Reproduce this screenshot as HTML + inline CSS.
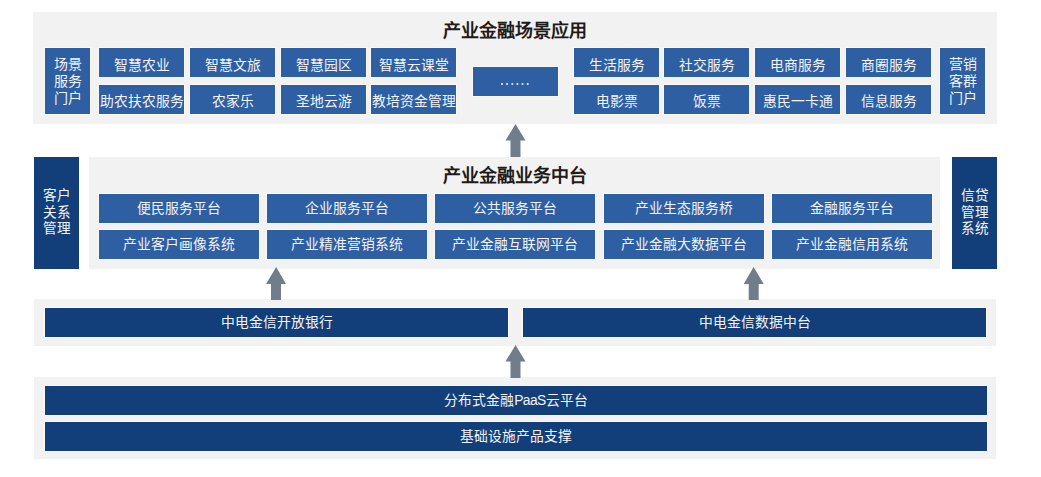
<!DOCTYPE html>
<html lang="zh-CN">
<head>
<meta charset="utf-8">
<style>
html,body{margin:0;padding:0;background:#ffffff;}
body{width:1041px;height:477px;position:relative;overflow:hidden;font-family:"Liberation Sans",sans-serif;}
.a{position:absolute;box-sizing:border-box;}
.p{background:#f2f2f2;}
.b{background:#2e5fa3;color:#f4f4f4;font-size:13.8px;text-align:center;line-height:29px;height:29px;width:85px;box-shadow:0 0 0 1px #faf9f3;white-space:nowrap;}
.m{width:160px;}
.r1{padding-top:2.5px;}
.r2{padding-top:1.5px;}
.d{background:#123f7a;color:#f4f4f4;font-size:13.8px;text-align:center;line-height:29px;height:29px;box-shadow:0 0 0 1px #faf9f3;white-space:nowrap;}
.v{font-size:14px;line-height:17px;color:#f4f4f4;text-align:center;display:flex;align-items:center;justify-content:center;}
.sd{font-size:13.6px;line-height:16.7px;padding-bottom:0px;}
.t{font-size:18px;font-weight:bold;color:#1f1b18;text-align:center;white-space:nowrap;line-height:20px;}
</style>
</head>
<body>
<!-- top panel -->
<div class="a p" style="left:33px;top:12px;width:964px;height:112px;"></div>
<div class="a t" style="left:33px;top:21px;width:964px;">产业金融场景应用</div>
<div class="a b v" style="left:45px;top:48px;width:45px;height:66px;">场景<br>服务<br>门户</div>
<div class="a b r1" style="left:99px;top:48px;">智慧农业</div>
<div class="a b r1" style="left:190px;top:48px;">智慧文旅</div>
<div class="a b r1" style="left:281px;top:48px;">智慧园区</div>
<div class="a b r1" style="left:371px;top:48px;">智慧云课堂</div>
<div class="a b r2" style="left:99px;top:85px;">助农扶农服务</div>
<div class="a b r2" style="left:190px;top:85px;">农家乐</div>
<div class="a b r2" style="left:281px;top:85px;">圣地云游</div>
<div class="a b r2" style="left:371px;top:85px;">教培资金管理</div>
<div class="a b" style="left:473px;top:67px;"></div>
<div class="a b r1" style="left:574px;top:48px;">生活服务</div>
<div class="a b r1" style="left:664px;top:48px;">社交服务</div>
<div class="a b r1" style="left:755px;top:48px;">电商服务</div>
<div class="a b r1" style="left:846px;top:48px;">商圈服务</div>
<div class="a b r2" style="left:574px;top:85px;">电影票</div>
<div class="a b r2" style="left:664px;top:85px;">饭票</div>
<div class="a b r2" style="left:755px;top:85px;">惠民一卡通</div>
<div class="a b r2" style="left:846px;top:85px;">信息服务</div>
<div class="a b v" style="left:940px;top:48px;width:45px;height:66px;">营销<br>客群<br>门户</div>

<!-- middle -->
<div class="a v sd" style="left:34px;top:157px;width:45px;height:112px;background:#123f7a;">客户<br>关系<br>管理</div>
<div class="a p" style="left:89px;top:157px;width:851px;height:112px;"></div>
<div class="a v sd" style="left:952px;top:157px;width:45px;height:112px;background:#123f7a;">信贷<br>管理<br>系统</div>
<div class="a t" style="left:89px;top:166px;width:851px;">产业金融业务中台</div>
<div class="a b m" style="left:99px;top:194px;">便民服务平台</div>
<div class="a b m" style="left:267px;top:194px;">企业服务平台</div>
<div class="a b m" style="left:435px;top:194px;">公共服务平台</div>
<div class="a b m" style="left:604px;top:194px;">产业生态服务桥</div>
<div class="a b m" style="left:772px;top:194px;">金融服务平台</div>
<div class="a b m" style="left:99px;top:230px;">产业客户画像系统</div>
<div class="a b m" style="left:267px;top:230px;">产业精准营销系统</div>
<div class="a b m" style="left:435px;top:230px;">产业金融互联网平台</div>
<div class="a b m" style="left:604px;top:230px;">产业金融大数据平台</div>
<div class="a b m" style="left:772px;top:230px;">产业金融信用系统</div>

<!-- lower -->
<div class="a p" style="left:34px;top:299px;width:962px;height:47px;"></div>
<div class="a d" style="left:45px;top:308px;width:463px;">中电金信开放银行</div>
<div class="a d" style="left:523px;top:308px;width:463px;">中电金信数据中台</div>

<!-- bottom -->
<div class="a p" style="left:34px;top:377px;width:962px;height:82px;"></div>
<div class="a d" style="left:45px;top:386px;width:942px;">分布式金融<span style="letter-spacing:-0.55px">PaaS</span>云平台</div>
<div class="a d" style="left:45px;top:422px;width:942px;">基础设施产品支撑</div>

<svg class="a" style="left:0;top:0;" width="1041" height="477" viewBox="0 0 1041 477">
<g fill="#f4f4f4"><circle cx="502.00" cy="84" r="1.05"/><circle cx="507.14" cy="84" r="1.05"/><circle cx="512.28" cy="84" r="1.05"/><circle cx="517.42" cy="84" r="1.05"/><circle cx="522.56" cy="84" r="1.05"/><circle cx="527.70" cy="84" r="1.05"/></g>
<g fill="#717d8b">
<polygon points="515.5,124 525.5,140.5 520.5,140.5 520.5,157 510.5,157 510.5,140.5 505.5,140.5"/>
<polygon points="276.2,267 286,284 281,284 281,300 271,300 271,284 266,284"/>
<polygon points="753.6,267 763.7,284 758.7,284 758.7,300 748.7,300 748.7,284 743.7,284"/>
<polygon points="515.5,345 525.5,361.5 520.5,361.5 520.5,378 510.5,378 510.5,361.5 505.5,361.5"/>
</g>
</svg>
</body>
</html>
